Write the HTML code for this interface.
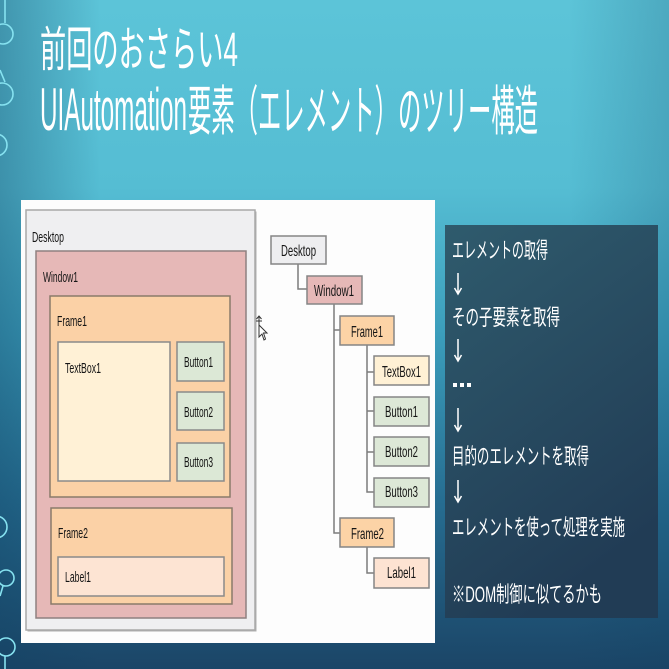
<!DOCTYPE html>
<html><head><meta charset="utf-8">
<style>
html,body{margin:0;padding:0;width:669px;height:669px;overflow:hidden;background:#2a7fa0;}
svg{display:block;}
</style></head>
<body>
<svg width="669" height="669" viewBox="0 0 669 669" xmlns="http://www.w3.org/2000/svg">
<defs>
<linearGradient id="bg" x1="0" y1="0" x2="0" y2="1">
<stop offset="0" stop-color="#5cc4d8"/>
<stop offset="0.28" stop-color="#55bdd3"/>
<stop offset="0.5" stop-color="#3b9dbb"/>
<stop offset="0.75" stop-color="#266d91"/>
<stop offset="1" stop-color="#1b4567"/>
</linearGradient>
<linearGradient id="bgl" x1="0" y1="0" x2="1" y2="0">
<stop offset="0" stop-color="#0f3f60" stop-opacity="0.35"/>
<stop offset="0.15" stop-color="#0f3f60" stop-opacity="0"/>
<stop offset="0.85" stop-color="#0f3f60" stop-opacity="0"/>
<stop offset="1" stop-color="#0f3f60" stop-opacity="0.2"/>
</linearGradient>
<linearGradient id="dk" x1="0" y1="0" x2="0.4" y2="1">
<stop offset="0" stop-color="#2f5b6d"/>
<stop offset="1" stop-color="#213c55"/>
</linearGradient>
</defs>
<rect width="669" height="669" fill="url(#bg)"/>
<rect width="669" height="669" fill="url(#bgl)"/>

<!-- left decorations -->
<g fill="none" stroke="#86e2f0" stroke-width="1.6">
<path d="M5 0 V23"/>
<circle cx="3" cy="34" r="10"/>
<path d="M0 70 L5 82"/>
<circle cx="2" cy="94" r="11"/>
<circle cx="-4" cy="145" r="11"/>
<circle cx="-4" cy="527" r="11"/>
<circle cx="6" cy="578" r="8"/>
<path d="M3 586 L0 596"/>
<circle cx="6" cy="647" r="9"/>
<path d="M5 656 V669"/>
</g>

<!-- titles -->
<g fill="#ffffff" font-family="'Liberation Sans','Noto Sans CJK JP',sans-serif">
<text x="40" y="66" font-size="48" textLength="198" lengthAdjust="spacingAndGlyphs">前回のおさらい4</text>
<text x="40" y="130" font-size="60" textLength="147" lengthAdjust="spacingAndGlyphs">UIAutomation</text>
<text x="188" y="130" font-size="54" textLength="350" lengthAdjust="spacingAndGlyphs" font-family="'Noto Sans CJK JP',sans-serif">要素（エレメント）のツリー構造</text>
</g>

<!-- white panel -->
<rect x="21" y="200" width="414" height="443" fill="#fdfdfd"/>

<!-- left nested boxes -->
<g stroke="#8a8a8a" stroke-width="1.5">
<rect x="27.5" y="211.5" width="229" height="420" fill="#b0b0b0" stroke="none"/>
<rect x="26" y="210" width="229" height="420" fill="#efeff1" stroke="#a8a8a8"/>
<rect x="36" y="251" width="210" height="367" fill="#e6b8b7" stroke="#8f8080"/>
<rect x="50" y="296" width="180" height="201" fill="#fbd1a6" stroke="#8a7a6a"/>
<rect x="58" y="342" width="112" height="139" fill="#fff1d6"/>
<rect x="177" y="342" width="47" height="39" fill="#dce8d6"/>
<rect x="177" y="392" width="47" height="38" fill="#dce8d6"/>
<rect x="177" y="443" width="47" height="38" fill="#dce8d6"/>
<rect x="51" y="508" width="181" height="96" fill="#fbd1a6" stroke="#8a7a6a"/>
<rect x="58" y="557" width="166" height="39" fill="#fde4d3"/>
</g>
<g fill="#151515" font-family="'Liberation Sans',sans-serif" font-size="15">
<text x="32" y="242" textLength="32" lengthAdjust="spacingAndGlyphs">Desktop</text>
<text x="43" y="282" textLength="35" lengthAdjust="spacingAndGlyphs">Window1</text>
<text x="57" y="326" textLength="30" lengthAdjust="spacingAndGlyphs">Frame1</text>
<text x="65" y="373" textLength="36" lengthAdjust="spacingAndGlyphs">TextBox1</text>
<text x="184" y="367" textLength="29" lengthAdjust="spacingAndGlyphs">Button1</text>
<text x="184" y="417" textLength="29" lengthAdjust="spacingAndGlyphs">Button2</text>
<text x="184" y="467" textLength="29" lengthAdjust="spacingAndGlyphs">Button3</text>
<text x="58" y="538" textLength="30" lengthAdjust="spacingAndGlyphs">Frame2</text>
<text x="65" y="582" textLength="26" lengthAdjust="spacingAndGlyphs">Label1</text>
</g>

<!-- cursor -->
<g stroke="#333" stroke-width="1" fill="none">
<path d="M259 316 V326 M256.5 319 L259 316 L261.5 319 M256 321 H262"/>
<path d="M259 325 L259 337 L262 334 L264 340 L265.5 339 L263.5 333 L267 333 Z" fill="#fff"/>
</g>

<!-- tree connectors -->
<g stroke="#7c7c7c" stroke-width="1.5" fill="none">
<path d="M298 264 V289 H307"/>
<path d="M334 304 V533 H340 M334 330 H340"/>
<path d="M367 345 V492 H374 M367 372 H374 M367 411 H374 M367 452 H374"/>
<path d="M367 547 V573 H374"/>
</g>
<!-- tree nodes -->
<g stroke="#858585" stroke-width="1.5">
<rect x="271" y="236" width="55" height="28" fill="#eeeef0"/>
<rect x="307" y="276" width="55" height="28" fill="#e6b8b7"/>
<rect x="340" y="316" width="54" height="29" fill="#fcd3a6"/>
<rect x="374" y="356" width="55" height="29" fill="#fff1d5"/>
<rect x="374" y="397" width="55" height="29" fill="#dde8d7"/>
<rect x="374" y="437" width="55" height="29" fill="#dde8d7"/>
<rect x="374" y="478" width="55" height="29" fill="#dde8d7"/>
<rect x="340" y="518" width="54" height="29" fill="#fcd3a6"/>
<rect x="374" y="558" width="55" height="30" fill="#fde3d2"/>
</g>
<g fill="#151515" font-family="'Liberation Sans',sans-serif" font-size="16">
<text x="281" y="256" textLength="35" lengthAdjust="spacingAndGlyphs">Desktop</text>
<text x="314" y="296" textLength="40" lengthAdjust="spacingAndGlyphs">Window1</text>
<text x="351" y="337" textLength="32" lengthAdjust="spacingAndGlyphs">Frame1</text>
<text x="382" y="377" textLength="39" lengthAdjust="spacingAndGlyphs">TextBox1</text>
<text x="385" y="417" textLength="33" lengthAdjust="spacingAndGlyphs">Button1</text>
<text x="385" y="457" textLength="33" lengthAdjust="spacingAndGlyphs">Button2</text>
<text x="385" y="497" textLength="33" lengthAdjust="spacingAndGlyphs">Button3</text>
<text x="351" y="539" textLength="33" lengthAdjust="spacingAndGlyphs">Frame2</text>
<text x="387" y="578" textLength="29" lengthAdjust="spacingAndGlyphs">Label1</text>
</g>

<!-- dark panel -->
<rect x="445" y="225" width="213" height="393" fill="url(#dk)"/>
<g fill="#ffffff" font-family="'Liberation Sans','Noto Sans CJK JP',sans-serif" font-size="22">
<text x="452" y="258" textLength="96" lengthAdjust="spacingAndGlyphs">エレメントの取得</text>
<text x="452" y="325" textLength="108" lengthAdjust="spacingAndGlyphs">その子要素を取得</text>
<text x="452" y="464" textLength="137" lengthAdjust="spacingAndGlyphs">目的のエレメントを取得</text>
<text x="452" y="535" textLength="173" lengthAdjust="spacingAndGlyphs">エレメントを使って処理を実施</text>
<text x="452" y="602" textLength="150" lengthAdjust="spacingAndGlyphs">※DOM制御に似てるかも</text>
</g>
<g fill="#ffffff">
<rect x="453" y="383" width="4" height="4"/>
<rect x="460" y="383" width="4" height="4"/>
<rect x="467" y="383" width="4" height="4"/>
</g>
<g stroke="#ffffff" stroke-width="1.5" fill="none">
<path d="M458 273 V294 M454.5 288 L458 294 L461.5 288"/>
<path d="M458 339 V361 M454.5 355 L458 361 L461.5 355"/>
<path d="M458 408 V431 M454.5 425 L458 431 L461.5 425"/>
<path d="M458 480 V502 M454.5 496 L458 502 L461.5 496"/>
</g>
</svg>
</body></html>
